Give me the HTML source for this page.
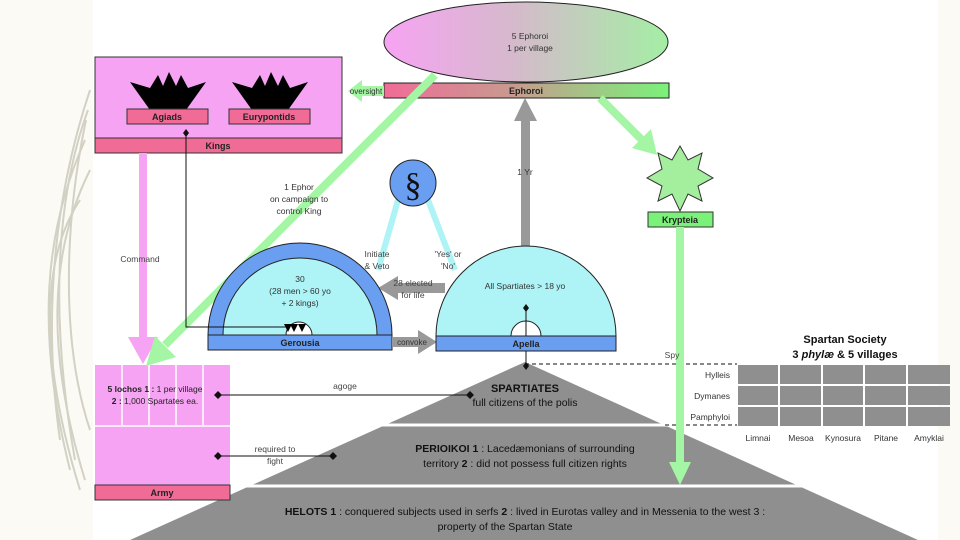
<!DOCTYPE html>
<html><head><meta charset="utf-8"><style>
body{margin:0;width:960px;height:540px;overflow:hidden;background:#fbfaf5}
svg{display:block;font-family:"Liberation Sans",Arial,sans-serif}
</style></head><body>
<svg width="960" height="540" viewBox="0 0 960 540" xmlns="http://www.w3.org/2000/svg">
<defs>
<linearGradient id="eg" x1="0" x2="1" y1="0" y2="0"><stop offset="0" stop-color="#f7a3f3"/><stop offset="0.45" stop-color="#d6b9cc"/><stop offset="1" stop-color="#a4eea4"/></linearGradient>
<linearGradient id="bg" x1="0" x2="1" y1="0" y2="0"><stop offset="0" stop-color="#f06c97"/><stop offset="0.45" stop-color="#c89a8f"/><stop offset="1" stop-color="#7af27a"/></linearGradient>
</defs>
<rect x="0" y="0" width="960" height="540" fill="#fbfaf5"/>
<g stroke="#cfcdbf" stroke-width="2" fill="none" opacity="0.9">
<path d="M90 90 C60 180 40 300 60 440"/><path d="M88 110 C55 200 50 320 75 460"/><path d="M85 140 C45 230 35 330 70 470"/><path d="M90 170 C50 250 45 350 85 480"/><path d="M86 120 C65 220 60 340 90 430"/><path d="M80 200 C40 260 40 360 80 490"/>
</g>
<rect x="93" y="0" width="845" height="540" fill="#fff"/>
<polygon points="525,362 918,540 130,540" fill="#8f8f8f"/>
<line x1="300" y1="425" x2="760" y2="425" stroke="#fff" stroke-width="3"/>
<line x1="200" y1="486" x2="860" y2="486" stroke="#fff" stroke-width="3"/>
<text x="525" y="392" font-size="11" font-weight="bold" text-anchor="middle" fill="#111">SPARTIATES</text>
<text x="525" y="406" font-size="10.5" text-anchor="middle" fill="#111">full citizens of the polis</text>
<text x="525" y="452" font-size="10.5" text-anchor="middle" fill="#111"><tspan font-weight="bold">PERIOIKOI  1</tspan> : Lacedæmonians of surrounding</text>
<text x="525" y="467" font-size="10.5" text-anchor="middle" fill="#111">territory  <tspan font-weight="bold">2</tspan> : did not possess full citizen rights</text>
<text x="525" y="515" font-size="10.5" text-anchor="middle" fill="#111"><tspan font-weight="bold">HELOTS  1</tspan> : conquered subjects used in serfs  <tspan font-weight="bold">2</tspan> : lived in Eurotas valley and in Messenia to the west  3 :</text>
<text x="505" y="530" font-size="10.5" text-anchor="middle" fill="#111">property of the Spartan State</text>
<path d="M525 364 H737 M665 425 H737" stroke="#111" stroke-dasharray="4,3" fill="none"/>
<g fill="#8f8f8f">
<rect x="738" y="365" width="40" height="19"/><rect x="780" y="365" width="41" height="19"/><rect x="823" y="365" width="40" height="19"/><rect x="865" y="365" width="41" height="19"/><rect x="908" y="365" width="42" height="19"/>
<rect x="738" y="386" width="40" height="19"/><rect x="780" y="386" width="41" height="19"/><rect x="823" y="386" width="40" height="19"/><rect x="865" y="386" width="41" height="19"/><rect x="908" y="386" width="42" height="19"/>
<rect x="738" y="407" width="40" height="19"/><rect x="780" y="407" width="41" height="19"/><rect x="823" y="407" width="40" height="19"/><rect x="865" y="407" width="41" height="19"/><rect x="908" y="407" width="42" height="19"/>
</g>
<g font-size="8.5" fill="#333">
<text x="730" y="378" text-anchor="end">Hylleis</text><text x="730" y="399" text-anchor="end">Dymanes</text><text x="730" y="420" text-anchor="end">Pamphyloi</text>
<text x="758" y="441" text-anchor="middle">Limnai</text><text x="801" y="441" text-anchor="middle">Mesoa</text><text x="843" y="441" text-anchor="middle">Kynosura</text><text x="886" y="441" text-anchor="middle">Pitane</text><text x="929" y="441" text-anchor="middle">Amyklai</text>
</g>
<text x="845" y="343" font-size="11" font-weight="bold" text-anchor="middle" fill="#111">Spartan Society</text>
<text x="845" y="358" font-size="11" font-weight="bold" text-anchor="middle" fill="#111">3 <tspan font-style="italic">phylæ</tspan> &amp; 5 villages</text>
<rect x="95" y="57" width="247" height="96" fill="#f7a3f3" stroke="#333"/>
<rect x="95" y="138" width="247" height="15" fill="#f06c97" stroke="#333"/>
<text x="218" y="149" font-size="9" font-weight="bold" text-anchor="middle" fill="#222">Kings</text>
<polygon points="130,82 150,88 158,75 163,86 169,72 176,86 181,75 188,88 206,82 186,110 150,110" fill="#000"/>
<polygon points="232,82 252,88 260,75 265,86 271,72 278,86 283,75 290,88 308,82 288,110 252,110" fill="#000"/>
<rect x="127" y="109" width="81" height="15" fill="#f06c97" stroke="#333"/>
<rect x="229" y="109" width="81" height="15" fill="#f06c97" stroke="#333"/>
<text x="167" y="120" font-size="9" font-weight="bold" text-anchor="middle" fill="#222">Agiads</text>
<text x="269" y="120" font-size="9" font-weight="bold" text-anchor="middle" fill="#222">Eurypontids</text>
<rect x="95" y="365" width="135" height="135" fill="#f7a3f3"/>
<g stroke="#fff" stroke-width="1.5"><line x1="122" y1="365" x2="122" y2="425"/><line x1="149" y1="365" x2="149" y2="425"/><line x1="176" y1="365" x2="176" y2="425"/><line x1="203" y1="365" x2="203" y2="425"/><line x1="95" y1="426" x2="230" y2="426"/></g>
<rect x="95" y="485" width="135" height="15" fill="#f06c97" stroke="#333"/>
<text x="162" y="496" font-size="9" font-weight="bold" text-anchor="middle" fill="#222">Army</text>
<text x="155" y="392" font-size="8.5" text-anchor="middle" fill="#222"><tspan font-weight="bold">5 lochos  1 :</tspan> 1 per village</text>
<text x="155" y="404" font-size="8.5" text-anchor="middle" fill="#222"><tspan font-weight="bold">2 :</tspan> 1,000 Spartates ea.</text>
<rect x="139" y="153" width="8" height="185" fill="#f7a3f3"/>
<polygon points="128,337 158,337 143,364" fill="#f7a3f3"/>
<text x="140" y="262" font-size="8.5" text-anchor="middle" fill="#444">Command</text>
<ellipse cx="526" cy="42" rx="142" ry="40" fill="url(#eg)" stroke="#222"/>
<text x="530" y="39" font-size="8.5" text-anchor="middle" fill="#333">5 Ephoroi</text>
<text x="530" y="51" font-size="8.5" text-anchor="middle" fill="#333">1 per village</text>
<rect x="384" y="83" width="285" height="15" fill="url(#bg)" stroke="#222"/>
<text x="526" y="94" font-size="9" font-weight="bold" text-anchor="middle" fill="#222">Ephoroi</text>
<polygon points="348,91 362,80 362,86 384,86 384,96 362,96 362,102" fill="#a4f5a4"/>
<text x="366" y="94" font-size="8" text-anchor="middle" fill="#333">oversight</text>
<line x1="435" y1="75" x2="165" y2="345" stroke="#a4f5a4" stroke-width="8"/>
<polygon points="146,366 155,336 176,357" fill="#a4f5a4"/>
<text x="299" y="190" font-size="8.5" text-anchor="middle" fill="#333">1 Ephor</text>
<text x="299" y="202" font-size="8.5" text-anchor="middle" fill="#333">on campaign to</text>
<text x="299" y="214" font-size="8.5" text-anchor="middle" fill="#333">control King</text>
<line x1="600" y1="98" x2="645" y2="143" stroke="#a4f5a4" stroke-width="8"/>
<polygon points="657,155 632,148 651,129" fill="#a4f5a4"/>
<polygon points="680,146 688,160 702,153 698,169 713,178 698,186 702,201 688,194 680,211 672,194 658,201 662,186 647,178 662,169 658,153 672,160" fill="#a4ef9e" stroke="#333"/>
<rect x="648" y="212" width="65" height="15" fill="#7af27a" stroke="#333"/>
<text x="680" y="223" font-size="9" font-weight="bold" text-anchor="middle" fill="#222">Krypteia</text>
<rect x="676" y="227" width="8" height="237" fill="#a4f5a4"/>
<polygon points="669,462 691,462 680,485" fill="#a4f5a4"/>
<text x="672" y="358" font-size="8.5" text-anchor="middle" fill="#444">Spy</text>
<rect x="521" y="118" width="9" height="130" fill="#999"/>
<polygon points="514,121 537,121 525,98" fill="#999"/>
<text x="525" y="175" font-size="8.5" text-anchor="middle" fill="#333">1 Yr</text>
<line x1="398" y1="200" x2="378" y2="270" stroke="#aef3f6" stroke-width="6"/>
<line x1="428" y1="200" x2="455" y2="270" stroke="#aef3f6" stroke-width="6"/>
<circle cx="413" cy="183" r="23" fill="#6a9ef0" stroke="#222"/>
<text x="413" y="196" font-size="34" font-family="Liberation Serif,serif" text-anchor="middle" fill="#111">§</text>
<text x="377" y="257" font-size="8.5" text-anchor="middle" fill="#444">Initiate</text>
<text x="377" y="269" font-size="8.5" text-anchor="middle" fill="#444">&amp; Veto</text>
<text x="448" y="257" font-size="8.5" text-anchor="middle" fill="#444">'Yes' or</text>
<text x="448" y="269" font-size="8.5" text-anchor="middle" fill="#444">'No'</text>
<rect x="395" y="283" width="50" height="10" fill="#999"/>
<polygon points="378,288 398,276 398,300" fill="#999"/>
<text x="413" y="286" font-size="8.5" text-anchor="middle" fill="#444">28 elected</text>
<text x="413" y="298" font-size="8.5" text-anchor="middle" fill="#444">for life</text>
<path d="M208 335 A92 92 0 0 1 392 335 Z" fill="#6a9ef0" stroke="#222"/>
<path d="M223 335 A77 77 0 0 1 377 335 Z" fill="#aef3f6" stroke="#222"/>
<rect x="208" y="335" width="184" height="15" fill="#6a9ef0" stroke="#222"/>
<text x="300" y="346" font-size="9" font-weight="bold" text-anchor="middle" fill="#222">Gerousia</text>
<text x="300" y="282" font-size="8.5" text-anchor="middle" fill="#333">30</text>
<text x="300" y="294" font-size="8.5" text-anchor="middle" fill="#333">(28 men &gt; 60 yo</text>
<text x="300" y="306" font-size="8.5" text-anchor="middle" fill="#333">+ 2 kings)</text>
<path d="M286 335 A13 13 0 0 1 312 335 Z" fill="#fff" stroke="#222"/>
<polygon points="290,324 298,324 294,332" fill="#000"/><polygon points="298,324 306,324 302,332" fill="#000"/><polygon points="284,324 292,324 288,332" fill="#000"/>
<path d="M186 133 V327 H286" stroke="#111" fill="none"/>
<polygon points="186,129 189,133 186,137 183,133" fill="#111"/>
<rect x="392" y="337" width="28" height="10" fill="#999"/>
<polygon points="418,330 437,342 418,354" fill="#999"/>
<text x="412" y="345" font-size="8" text-anchor="middle" fill="#333">convoke</text>
<path d="M436 336 A90 90 0 0 1 616 336 Z" fill="#aef3f6" stroke="#222"/>
<rect x="436" y="336" width="180" height="15" fill="#6a9ef0" stroke="#222"/>
<text x="526" y="347" font-size="9" font-weight="bold" text-anchor="middle" fill="#222">Apella</text>
<text x="525" y="289" font-size="8.5" text-anchor="middle" fill="#333">All Spartiates &gt; 18 yo</text>
<path d="M511 336 A15 15 0 0 1 541 336 Z" fill="#fff" stroke="#222"/>
<line x1="526" y1="308" x2="526" y2="336" stroke="#111"/>
<polygon points="526,304 529,308 526,312 523,308" fill="#111"/>
<line x1="526" y1="351" x2="526" y2="364" stroke="#111"/>
<polygon points="526,362 529,366 526,370 523,366" fill="#111"/>
<line x1="218" y1="395" x2="470" y2="395" stroke="#111"/>
<polygon points="218,391 222,395 218,399 214,395" fill="#111"/><polygon points="470,391 474,395 470,399 466,395" fill="#111"/>
<text x="345" y="389" font-size="8.5" text-anchor="middle" fill="#444">agoge</text>
<line x1="218" y1="456" x2="333" y2="456" stroke="#111"/>
<polygon points="218,452 222,456 218,460 214,456" fill="#111"/><polygon points="333,452 337,456 333,460 329,456" fill="#111"/>
<text x="275" y="452" font-size="8.5" text-anchor="middle" fill="#444">required to</text>
<text x="275" y="464" font-size="8.5" text-anchor="middle" fill="#444">fight</text>
</svg>
</body></html>
